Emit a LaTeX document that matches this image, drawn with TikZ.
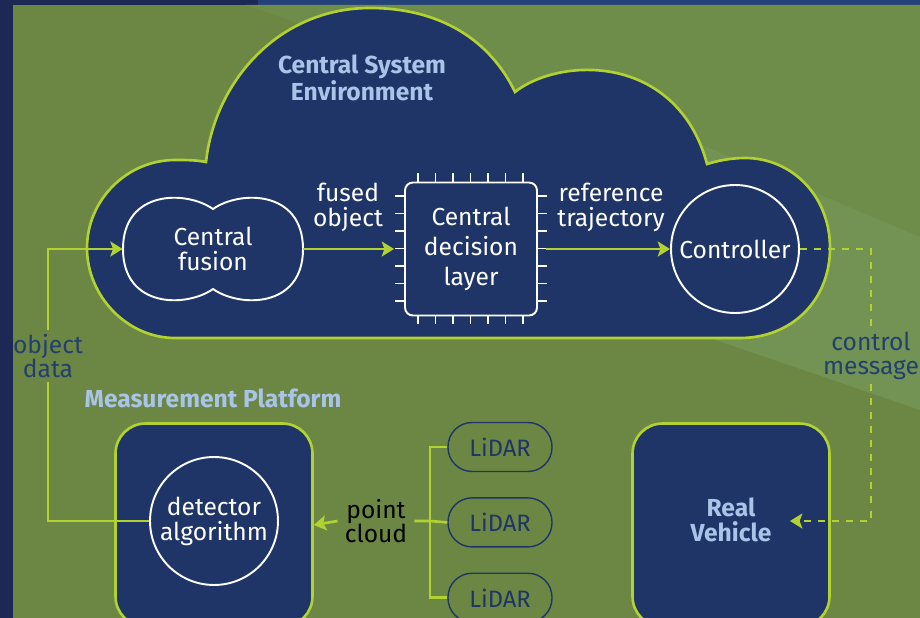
\documentclass[tikz,border=0pt]{standalone}
\usepackage{fontspec}
\setmainfont{Fira Sans}
\usetikzlibrary{positioning, arrows.meta}
\definecolor{navy}{HTML}{1F3567}
\definecolor{lime}{HTML}{B2D232}
\definecolor{olive}{HTML}{6C8743}
\definecolor{oliveup}{HTML}{6E8D4A}
\definecolor{oliveband}{HTML}{729353}
\definecolor{framedark}{HTML}{1D2854}
\definecolor{frametop}{HTML}{25417A}
\definecolor{paleblue}{HTML}{A9C4E8}
\definecolor{inknavy}{HTML}{22406F}

\begin{document}
\begin{tikzpicture}[x=0.02cm, y=-0.02cm, >={Stealth[length=7pt,width=8.5pt,inset=1.5pt]},
	flow/.style={draw=lime, line width=1.5pt},
	dashflow/.style={flow, dash pattern=on 4pt off 4pt},
	outline/.style={draw=white, line width=1.1pt},
	wtxt/.style={text=white, align=center, font=\fontsize{14}{14.2}\selectfont},
	head/.style={text=paleblue, align=center, font=\fontsize{14}{14.2}\selectfont\bfseries},
	gtxt/.style={text=inknavy, align=center, inner sep=2pt, font=\fontsize{14}{14}\selectfont},
	chipbox/.style={wtxt, outline, fill=navy, rounded corners=4.5pt, minimum width=2.64cm, minimum height=2.66cm, font=\fontsize{14}{17}\selectfont},
	ring/.style={wtxt, outline, circle, minimum size=2.56cm, inner sep=0pt},
	platform/.style={draw=lime, line width=1.5pt, fill=navy, rounded corners=0.6cm, minimum width=3.94cm, minimum height=4.06cm},
	lidar/.style={draw=navy, line width=0.8pt, rounded corners=0.48cm, minimum width=2.08cm, minimum height=0.98cm, text=navy, font=\fontsize{13.5}{14}\selectfont}]
	\useasboundingbox (0,0) rectangle (920,618);
	\fill[framedark] (0,0) rectangle (920,618);
	\fill[frametop] (258,0) rectangle (920,5);
	\fill[olive] (13,5) rectangle (920,618);
	\fill[oliveup] (246,5) -- (920,5) -- (920,240) -- cycle;
	\fill[oliveband] (690,140) -- (920,237) -- (920,410) -- (640,314) -- cycle;

	\draw[draw=lime, line width=1.5pt, fill=navy] (175,338) -- (740,338)
		.. controls (792,338) and (830,300) .. (830,248)
		.. controls (830,196) and (792,158) .. (745,158)
		.. controls (730,158) and (717,161) .. (707,164)
		.. controls (690,100) and (640,68) .. (582,70)
		.. controls (555,71) and (530,80) .. (515,92)
		.. controls (490,40) and (440,8) .. (370,8)
		.. controls (280,8) and (215,80) .. (206,162)
		.. controls (196,160) and (186,160) .. (175,160)
		.. controls (127,160) and (87,200) .. (87,248)
		.. controls (87,296) and (127,338) .. (175,338) -- cycle;
	\node[head] (cse) at (362,78) {Central System\\Environment};

	\node[wtxt, minimum width=3.6cm, minimum height=2.1cm] (fusion) at (213,249) {Central\\fusion};
	\draw[outline] (213,209) .. controls (240,190) and (303,190) .. (303,249)
		.. controls (303,308) and (240,308) .. (213,289)
		.. controls (186,308) and (123,308) .. (123,249)
		.. controls (123,190) and (186,190) .. (213,209) -- cycle;

	\foreach \i in {0,...,6} {
		\draw[outline] (418+17.5*\i,182) -- ++(0,-9);
		\draw[outline] (418+17.5*\i,315) -- ++(0,9);
		\draw[outline] (405,196+17.5*\i) -- ++(-10,0);
		\draw[outline] (537,196+17.5*\i) -- ++(10,0);
	}
	\node[chipbox] (chip) at (471,249) {Central\\decision\\layer};
	\node[ring] (ctrl) at (735,249) {Controller};

	\draw[flow,->,shorten >=0.2cm] (fusion) -- (chip.west);
	\node[wtxt] (fusedlbl) at (348,207) {fused\\object};
	\draw[flow,->,shorten <=0.16cm] (chip.east) -- (ctrl.west);
	\node[wtxt] (reflbl) at (611,207) {reference\\trajectory};

	\node[head] (mplbl) at (213,398) {Measurement Platform};
	\node[platform] (platform) at (214,525) {};
	\node[platform] (vehicle) at (731,525) {};
	\node[head] (vehlbl) at (731,520) {Real\\Vehicle};
	\coordinate (vehin) at (790,521);

	\node[gtxt] (objlbl) at (48,356) {object\\data};
	\node[gtxt] (ctrlmsg) at (871,356) {control\\message};
	\node[ring] (detector) at (214,521) {detector\\algorithm};
	\draw[flow] (detector.west) -| (objlbl.south);
	\draw[flow,->] (objlbl.north) |- (fusion.west);
	\draw[dashflow] (ctrl.east) -| (ctrlmsg.north);
	\draw[dashflow,->] (ctrlmsg.south) |- (vehin);

	\node[lidar] (lidA) at (500,447) {LiDAR};
	\node[lidar, below=0.5cm of lidA] (lidB) {LiDAR};
	\node[lidar, below=0.5cm of lidB] (lidC) {LiDAR};
	\coordinate (bus) at (430,521);
	\node[gtxt, text=black, inner sep=4pt] (ptlbl) at (376,521) {point\\cloud};
	\draw[flow] (lidA.west) -| (bus) |- (lidC.west);
	\draw[flow] (lidB.west) -- (bus) -- (ptlbl.east);
	\draw[flow,->] (ptlbl.west) -- (platform.east);
\end{tikzpicture}
\end{document}
